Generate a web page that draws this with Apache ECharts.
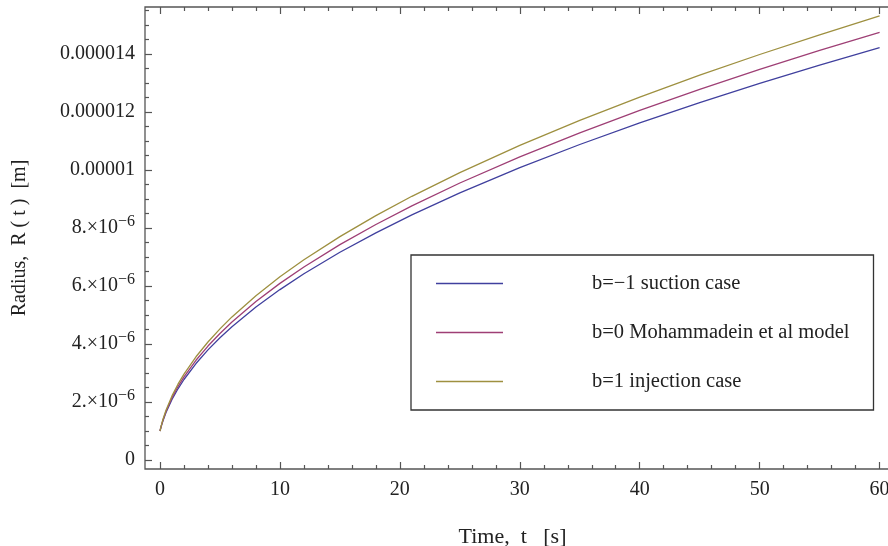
<!DOCTYPE html>
<html>
<head>
<meta charset="utf-8">
<script src="https://cdn.jsdelivr.net/npm/echarts@6/dist/echarts.min.js"></script>
<style>
  html, body { margin: 0; padding: 0; background: #fff; }
  #chart { width: 888px; height: 546px; }
</style>
</head>
<body>
<div id="chart"></div>
<script>
// time in s, radius in units of 1e-6 m
const timeValues = [0, 0.1, 0.25, 0.5, 1, 1.5, 2, 3, 4, 5, 6, 8, 10, 12, 15, 18, 21, 25, 30, 35, 40, 45, 50, 55, 60];
const radiusSuction = [1, 1.156, 1.356, 1.636, 2.086, 2.456, 2.776, 3.326, 3.796, 4.215, 4.595, 5.275, 5.876, 6.422, 7.162, 7.833, 8.451, 9.210, 10.079, 10.879, 11.624, 12.324, 12.987, 13.617, 14.219];
const radiusModel = [1, 1.167, 1.379, 1.675, 2.147, 2.533, 2.867, 3.439, 3.929, 4.364, 4.760, 5.466, 6.090, 6.656, 7.425, 8.122, 8.763, 9.551, 10.453, 11.283, 12.057, 12.783, 13.470, 14.124, 14.749];
const radiusInjection = [1, 1.179, 1.404, 1.716, 2.211, 2.614, 2.963, 3.560, 4.069, 4.522, 4.934, 5.667, 6.317, 6.905, 7.704, 8.427, 9.093, 9.912, 10.849, 11.711, 12.514, 13.268, 13.982, 14.661, 15.310];

const seriesNames = ['b=\u22121 suction case', 'b=0 Mohammadein et al model', 'b=1 injection case'];
const seriesColors = ['#40409e', '#9e3f75', '#9e9040'];

const xTickValues = [0, 10, 20, 30, 40, 50, 60];
const xTickLabels = ['0', '10', '20', '30', '40', '50', '60'];
const yTickValues = [0, 2, 4, 6, 8, 10, 12, 14];
const yTickLabels = ['0', '2.\u00d710^\u22126', '4.\u00d710^\u22126', '6.\u00d710^\u22126', '8.\u00d710^\u22126', '0.00001', '0.000012', '0.000014'];

const xMinorTicks = [];
for (let v = 2; v < 62; v += 2) if (v % 10) xMinorTicks.push(v);
const yMinorTicks = [];
for (let v = 0.5; v < 15.6; v += 0.5) if (v % 2) yMinorTicks.push(v);

const FONT = '"Liberation Serif", "DejaVu Serif", serif';
const frameColor = '#555';

const chart = echarts.init(document.getElementById('chart'));

function tickAxis(pos, major, withLabels) {
  const isX = pos === 'bottom' || pos === 'top';
  const ax = {
    type: 'value',
    position: pos,
    min: isX ? -1.25 : -0.31,
    max: isX ? 61.2 : 15.62,
    axisLine: { show: false, onZero: false },
    splitLine: { show: false },
    axisTick: {
      show: true,
      inside: true,
      length: major ? 7 : 4,
      customValues: major ? (isX ? xTickValues : yTickValues) : (isX ? xMinorTicks : yMinorTicks),
      lineStyle: { color: frameColor, width: 1.2 }
    },
    axisLabel: { show: false }
  };
  if (withLabels) {
    if (isX) {
      ax.axisLabel = {
        show: true,
        customValues: xTickValues,
        formatter: v => xTickLabels[xTickValues.indexOf(v)] || '',
        fontFamily: FONT, fontSize: 20, color: '#222', margin: 11
      };
      ax.name = 'Time,  t   [s]';
      ax.nameLocation = 'middle';
      ax.nameGap = 57;
      ax.nameTextStyle = { fontFamily: FONT, fontSize: 22, color: '#222', padding: [0, 14, 0, 0] };
    } else {
      ax.axisLabel = {
        show: true,
        customValues: yTickValues,
        formatter: v => {
          const s = yTickLabels[yTickValues.indexOf(v)] || '';
          const p = s.split('^');
          return p.length > 1 ? '{b|' + p[0] + '}{e|' + p[1] + '}' : '{b|' + s + '}';
        },
        margin: 10,
        rich: {
          b: { fontFamily: FONT, fontSize: 20, color: '#222' },
          e: { fontFamily: FONT, fontSize: 16, color: '#222', verticalAlign: 'bottom', padding: [0, 0, 12, 0] }
        }
      };
      ax.name = 'Radius,  R ( t )  [m]';
      ax.nameLocation = 'middle';
      ax.nameGap = 115;
      ax.nameTextStyle = { fontFamily: FONT, fontSize: 20, color: '#222' };
    }
  }
  return ax;
}

const series = [radiusSuction, radiusModel, radiusInjection].map((vals, i) => ({
  name: seriesNames[i],
  type: 'line',
  xAxisIndex: 0,
  yAxisIndex: 0,
  symbol: 'none',
  smooth: false,
  lineStyle: { color: seriesColors[i], width: 1.3 },
  itemStyle: { color: seriesColors[i] },
  data: timeValues.map((t, j) => [t, vals[j]])
}));

chart.setOption({
  animation: false,
  backgroundColor: '#fff',
  grid: {
    left: 145, top: 7, right: -6, bottom: 77,
    outerBoundsMode: 'none',
    containLabel: false,
    show: true, borderColor: frameColor, borderWidth: 1.3, backgroundColor: 'transparent'
  },
  xAxis: [
    tickAxis('bottom', true, true),
    tickAxis('bottom', false, false),
    tickAxis('top', true, false),
    tickAxis('top', false, false)
  ],
  yAxis: [
    tickAxis('left', true, true),
    tickAxis('left', false, false)
  ],
  legend: {
    orient: 'vertical',
    left: 411,
    top: 255,
    backgroundColor: '#fff',
    borderColor: '#333',
    borderWidth: 1.3,
    padding: [18, 24, 18, 25],
    itemGap: 28,
    itemWidth: 67,
    itemHeight: 1.5,
    icon: 'rect',
    textStyle: { fontFamily: FONT, fontSize: 20.5, color: '#222', padding: [0, 0, 0, 84] },
    data: seriesNames
  },
  series: series
});
</script>
</body>
</html>
